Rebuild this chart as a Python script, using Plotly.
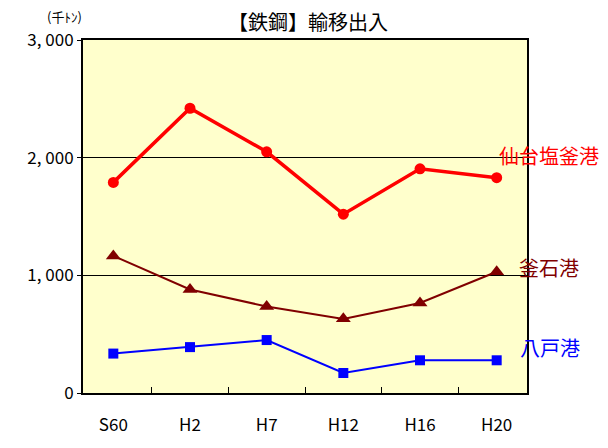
import plotly.graph_objects as go

years = ['S60', 'H2', 'H7', 'H12', 'H16', 'H20']
sendai = [1790, 2420, 2050, 1520, 1905, 1830]
kamaishi = [1165, 880, 735, 630, 765, 1030]
hachinohe = [335, 390, 450, 170, 278, 278]

font_jp = 'Noto Sans CJK JP'

fig = go.Figure()
fig.add_trace(go.Scatter(x=years, y=sendai, mode='lines+markers', name='仙台塩釜港',
                         line=dict(color='#FF0000', width=3.5),
                         marker=dict(symbol='circle', size=11, color='#FF0000')))
fig.add_trace(go.Scatter(x=years, y=kamaishi, mode='lines+markers', name='釜石港',
                         line=dict(color='#800000', width=2),
                         marker=dict(symbol='triangle-up', size=13, color='#800000')))
fig.add_trace(go.Scatter(x=years, y=hachinohe, mode='lines+markers', name='八戸港',
                         line=dict(color='#0000FF', width=2),
                         marker=dict(symbol='square', size=10, color='#0000FF')))

# page has an 8px body margin, so the figure is 600x440 and offsets are reduced by 8
fig.update_layout(
    width=600, height=440,
    margin=dict(l=75, r=81, t=32, b=41),
    paper_bgcolor='white', plot_bgcolor='#FFFFCC',
    showlegend=False,
    font=dict(family=font_jp, size=17, color='black'),
    title=dict(text='【鉄鋼】輸移出入', x=0.5, xanchor='center', y=0.965, yanchor='middle',
               font=dict(family=font_jp, size=20, color='black')),
)
fig.update_xaxes(type='category', tickson='boundaries', ticks='inside', ticklen=6,
                 tickcolor='black', showgrid=False, showline=True, linecolor='black',
                 linewidth=2, mirror=True, tickfont=dict(size=17), ticklabelstandoff=16)
fig.update_yaxes(range=[0, 3000], tickvals=[0, 1000, 2000, 3000],
                 ticktext=['0', '1, 000', '2, 000', '3, 000'],
                 ticks='outside', ticklen=4, tickcolor='black',
                 showgrid=True, gridcolor='black', gridwidth=1, zeroline=False,
                 showline=True, linecolor='black', linewidth=2, mirror=True,
                 tickfont=dict(size=17))

fig.add_annotation(x=-0.085, y=1.0, xref='paper', yref='paper', xanchor='left', yanchor='middle',
                   yshift=24, text='(千ﾄﾝ)', showarrow=False, font=dict(size=13))
labels = [('仙台塩釜港', 2020, '#FF0000', 0.932),
          ('釜石港', 1063, '#800000', 0.977),
          ('八戸港', 384, '#0000FF', 0.98)]
for txt, yv, col, xp in labels:
    fig.add_annotation(x=xp, xref='paper', y=yv, yref='y', xanchor='left', yanchor='middle',
                       text=txt, showarrow=False, font=dict(size=20, color=col))

fig.write_html("out.html")
